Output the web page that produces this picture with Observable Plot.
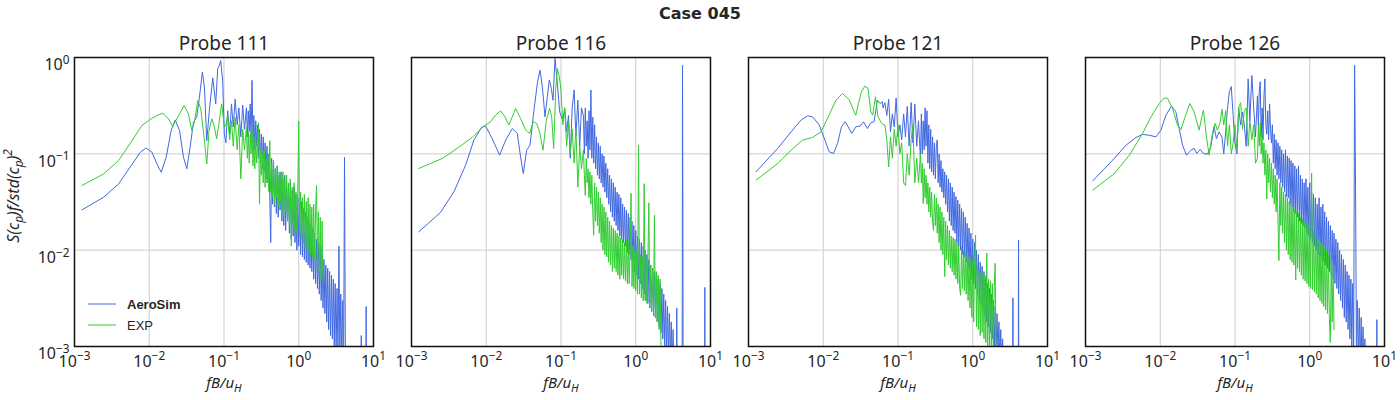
<!DOCTYPE html>
<html><head><meta charset="utf-8">
<script src="https://cdn.jsdelivr.net/npm/d3@7"></script>
<script src="https://cdn.jsdelivr.net/npm/@observablehq/plot@0.6"></script>
<style>
body{margin:0;background:#fff;position:relative;width:1400px;}
#title{position:absolute;top:4px;left:0;width:1400px;height:20px;line-height:20px;text-align:center;font:bold 16px "DejaVu Sans",sans-serif;color:#262626;}
#chart{padding-top:28px;}
#chart svg{display:block;}
</style></head><body>
<div id="title">Case 045</div>
<div id="chart"></div>
<script>
const probes = ["Probe 111", "Probe 116", "Probe 121", "Probe 126"];
const seriesNames = ["AeroSim", "EXP"];
const xTicks = [0.001, 0.01, 0.1, 1, 10];
const yTicks = [0.001, 0.01, 0.1, 1];

// frequency grids (fB/uH) for the oscillating high-frequency parts
const freqCoarse = [0.0631,0.0668,0.0708,0.075,0.0794,0.0841,0.0891,0.0944,0.1,0.106,0.112,0.119,0.126,0.133,0.141,0.15,0.158,0.168,0.178,0.188];
const freqFine = [0.1995,0.2054,0.2113,0.2175,0.2239,0.2304,0.2371,0.2441,0.2512,0.2585,0.2661,0.2738,0.2818,0.2901,0.2985,0.3073,0.3162,0.3255,0.335,0.3447,0.3548,0.3652,0.3758,0.3868,0.3981,0.4097,0.4217,0.434,0.4467,0.4597,0.4732,0.487,0.5012,0.5158,0.5309,0.5464,0.5623,0.5788,0.5957,0.6131,0.631,0.6494,0.6683,0.6879,0.7079,0.7286,0.7499,0.7718,0.7943,0.8175,0.8414,0.866,0.8913,0.9173,0.9441,0.9716,1,1.029,1.059,1.09,1.122,1.155,1.189,1.223,1.259,1.296,1.334,1.372,1.413,1.454,1.496,1.54,1.585,1.631,1.679,1.728,1.778,1.83,1.884,1.939,1.995,2.054,2.113,2.175,2.239,2.304,2.371,2.441,2.512,2.585,2.661,2.738,2.818,2.901,2.985,3.073,3.162,3.255,3.35,3.447,3.548,3.652,3.758,3.868,3.981,4.097,4.217,4.34,4.467,4.597,4.732,4.87,5.012,5.158,5.309,5.464,5.623];

// ---- Probe 111 ----
const aero111Low = [[0.00126,0.0262],[0.00246,0.0355],[0.0039,0.0489],[0.00587,0.0775],[0.00759,0.104],[0.00903,0.115],[0.01086,0.104],[0.01265,0.0787],[0.01445,0.0645],[0.01686,0.0923],[0.01965,0.175],[0.0222,0.225],[0.0254,0.175],[0.0287,0.0923],[0.0318,0.07],[0.0352,0.117],[0.039,0.213],[0.0432,0.24],[0.0469,0.387],[0.0514,0.705],[0.0547,0.492],[0.0588,0.137],[0.0637,0.282],[0.0707,0.615],[0.0775,0.33],[0.0824,0.762],[0.0867,0.826],[0.0903,0.931],[0.096,0.577],[0.101,0.161]];
const aero111Coarse = [null,null,null,null,null,null,null,null,null,0.13,0.28,0.16,0.33,0.19,0.37,0.2,0.3,0.15,0.32,0.18];
const aero111Fine = [0.3,0.15,0.28,0.17,0.33,0.14,0.58,0.13,0.25,0.11,0.22,0.12,0.2,0.09,0.18,0.08,0.16,0.07,0.15,0.065,0.13,0.055,0.12,0.05,0.1,0.035,0.012,0.09,0.03,0.085,0.028,0.07,0.024,0.075,0.022,0.06,0.026,0.065,0.02,0.055,0.018,0.06,0.016,0.05,0.02,0.045,0.015,0.05,0.013,0.042,0.014,0.045,0.012,0.038,0.01,0.035,0.011,0.03,0.009,0.032,0.0085,0.027,0.008,0.025,0.0075,0.022,0.007,0.02,0.0065,0.018,0.006,0.017,0.005,0.015,0.0045,0.013,0.004,0.012,0.0035,0.011,0.003,0.009,0.0025,0.008,0.0022,0.007,0.0018,0.0065,0.0015,0.006,0.0013,0.0055,0.0012,0.005,0.001,0.0045,0.0009,0.004,0.0008,0.011,0.0008,0.0035,0.0007,0.003,0.0006,0.092,0.0005];
const aero111Spikes = [[6.8,0.0005],[6.86,0.0013],[6.92,0.0005],[7.9,0.0005],[7.98,0.0026],[8.05,0.0005]];
const exp111Low = [[0.00126,0.0469],[0.00246,0.062],[0.0039,0.0853],[0.00587,0.137],[0.00798,0.197],[0.01009,0.225],[0.01265,0.25],[0.0152,0.264],[0.0181,0.231],[0.0205,0.192],[0.0234,0.231],[0.0293,0.318],[0.0334,0.26],[0.0371,0.175],[0.0402,0.213],[0.0446,0.358],[0.0489,0.293],[0.0541,0.149],[0.0588,0.0787],[0.0631,0.175],[0.0686,0.231],[0.0743,0.189],[0.0798,0.143],[0.0867,0.222],[0.0931,0.33],[0.101,0.189]];
const exp111Coarse = [null,null,null,null,null,null,null,null,null,0.2,0.25,0.14,0.22,0.12,0.24,0.11,0.2,0.055,0.18,0.11];
const exp111Fine = [0.19,0.09,0.17,0.08,0.16,0.1,0.18,0.075,0.15,0.07,0.14,0.08,0.12,0.21,0.03,0.11,0.06,0.1,0.05,0.11,0.045,0.09,0.05,0.1,0.04,0.137,0.04,0.08,0.035,0.085,0.03,0.07,0.035,0.075,0.028,0.065,0.03,0.06,0.025,0.065,0.022,0.055,0.025,0.06,0.02,0.05,0.018,0.055,0.011,0.045,0.018,0.05,0.016,0.04,0.015,0.045,0.22,0.014,0.04,0.013,0.035,0.012,0.038,0.011,0.032,0.01,0.035,0.0095,0.03,0.009,0.028,0.0085,0.03,0.008,0.025,0.047,0.0075,0.025,0.006,0.022,0.005,0.02,0.0045];
const exp111Spikes = [];

// ---- Probe 116 ----
const aero116Low = [[0.00125,0.0155],[0.00244,0.0246],[0.00369,0.0403],[0.00529,0.0762],[0.00684,0.139],[0.00865,0.188],[0.0098,0.194],[0.012,0.144],[0.0151,0.0968],[0.0182,0.139],[0.0223,0.183],[0.026,0.163],[0.0288,0.093],[0.0313,0.0625],[0.0347,0.109],[0.0385,0.123],[0.0435,0.284],[0.0482,0.537],[0.0524,0.739],[0.0563,0.496],[0.0611,0.242],[0.0656,0.391],[0.0698,0.582],[0.0743,0.477],[0.0782,0.36],[0.0832,0.977],[0.0894,0.537],[0.096,0.273]];
const aero116Coarse = [null,null,null,null,null,null,null,null,null,0.22,0.3,0.17,0.25,0.09,0.3,0.46,0.15,0.36,0.12,0.3];
const aero116Fine = [0.25,0.1,0.3,0.12,0.22,0.09,0.28,0.11,0.46,0.09,0.24,0.08,0.2,0.07,0.15,0.06,0.13,0.055,0.12,0.05,0.1,0.045,0.095,0.04,0.08,0.035,0.07,0.03,0.06,0.025,0.055,0.022,0.05,0.02,0.045,0.018,0.04,0.016,0.038,0.014,0.035,0.013,0.03,0.012,0.028,0.011,0.026,0.0095,0.024,0.009,0.022,0.008,0.02,0.0075,0.018,0.006,0.016,0.0055,0.014,0.005,0.013,0.0045,0.012,0.004,0.011,0.0035,0.01,0.003,0.009,0.0028,0.008,0.0025,0.007,0.0023,0.0065,0.0021,0.006,0.002,0.0055,0.0018,0.005,0.0016,0.0045,0.0014,0.004,0.0012,0.0035,0.001,0.003,0.0009,0.0026,0.0008,0.0022,0.0007,0.0018,0.0006,0.0015,0.0005];
const aero116Spikes = [[3.5,0.0006],[3.54,0.0025],[3.58,0.0006],[4.18,0.0006],[4.22,0.83],[4.26,0.05],[4.3,0.0006],[8.35,0.0006],[8.4,0.0041],[8.45,0.0006]];
const exp116Low = [[0.00125,0.0705],[0.00258,0.0895],[0.00409,0.114],[0.00649,0.148],[0.00883,0.188],[0.01143,0.215],[0.0133,0.252],[0.0156,0.279],[0.0178,0.242],[0.0201,0.199],[0.0223,0.242],[0.0247,0.296],[0.0288,0.233],[0.0337,0.176],[0.038,0.163],[0.0426,0.215],[0.0472,0.207],[0.0524,0.163],[0.0574,0.109],[0.0637,0.224],[0.0705,0.296],[0.075,0.242],[0.0798,0.114],[0.0849,0.458],[0.0894,0.769],[0.0951,0.631],[0.1,0.458]];
const exp116Coarse = [null,null,null,null,null,null,null,null,null,0.2,0.3,0.12,0.22,0.1,0.18,0.08,0.19,0.045,0.12,0.07];
const exp116Fine = [0.11,0.06,0.037,0.09,0.05,0.07,0.035,0.065,0.03,0.06,0.025,0.0143,0.05,0.02,0.045,0.018,0.04,0.015,0.035,0.012,0.03,0.01,0.028,0.009,0.025,0.0085,0.022,0.0075,0.02,0.007,0.018,0.006,0.017,0.0065,0.016,0.006,0.015,0.0055,0.014,0.005,0.0135,0.0055,0.013,0.005,0.012,0.0048,0.013,0.0045,0.012,0.0045,0.011,0.039,0.0042,0.011,0.004,0.01,0.0038,0.0095,0.0035,0.123,0.0035,0.009,0.0032,0.0085,0.003,0.049,0.003,0.008,0.0028,0.0075,0.031,0.0026,0.007,0.0024,0.0065,0.0022,0.023,0.002,0.006,0.0018,0.0055,0.0015,0.005,0.001];
const exp116Spikes = [];

// ---- Probe 121 ----
const aero121Low = [[0.00126,0.065],[0.00246,0.114],[0.00371,0.169],[0.00504,0.224],[0.00618,0.248],[0.00721,0.242],[0.00885,0.199],[0.01052,0.139],[0.012,0.105],[0.01374,0.101],[0.01552,0.128],[0.01754,0.191],[0.01965,0.215],[0.02153,0.191],[0.0241,0.163],[0.0273,0.191],[0.0311,0.194],[0.0345,0.215],[0.039,0.183],[0.0432,0.21],[0.0479,0.215],[0.053,0.36],[0.0575,0.333],[0.0618,0.347]];
const aero121Coarse = [0.3,0.34,0.25,0.37,0.17,0.26,0.19,0.38,0.15,0.2,0.14,0.26,0.15,0.31,0.12,0.34,0.13,0.33,0.12,0.22];
const aero121Fine = [0.09,0.26,0.1,0.22,0.11,0.3,0.12,0.28,0.08,0.2,0.07,0.18,0.065,0.15,0.06,0.13,0.055,0.12,0.14,0.05,0.1,0.045,0.085,0.04,0.07,0.035,0.065,0.03,0.06,0.025,0.055,0.02,0.05,0.018,0.045,0.016,0.04,0.015,0.036,0.012,0.033,0.011,0.03,0.01,0.027,0.009,0.025,0.0085,0.022,0.0075,0.019,0.0065,0.017,0.006,0.015,0.005,0.013,0.0045,0.012,0.004,0.01,0.0035,0.009,0.003,0.0075,0.0027,0.0068,0.0024,0.006,0.0021,0.0052,0.0018,0.0045,0.0016,0.004,0.0014,0.0035,0.0012,0.003,0.001,0.0026,0.0009,0.0022,0.0008,0.0018,0.0007,0.0015,0.0006,0.0012,0.0005];
const aero121Spikes = [[3.42,0.0006],[3.45,0.0032],[3.48,0.0006],[4.07,0.0006],[4.1,0.0127],[4.13,0.0006]];
const exp121Low = [[0.00126,0.0533],[0.00246,0.0794],[0.00371,0.109],[0.0053,0.139],[0.00721,0.148],[0.00931,0.169],[0.01167,0.242],[0.01476,0.36],[0.0181,0.423],[0.0222,0.366],[0.0254,0.284],[0.0273,0.252],[0.0296,0.333],[0.0324,0.44],[0.036,0.504],[0.0398,0.477],[0.0432,0.273],[0.0459,0.252],[0.0499,0.391],[0.0541,0.242],[0.0588,0.215],[0.0631,0.2]];
const exp121Coarse = [null,0.2,0.14,0.073,0.15,0.09,0.18,0.12,0.2,0.1,0.13,0.05,0.047,0.1,0.06,0.14,0.2,0.05,0.09,0.05];
const exp121Fine = [0.1,0.05,0.08,0.0305,0.07,0.035,0.06,0.03,0.05,0.025,0.045,0.022,0.04,0.02,0.016,0.038,0.018,0.035,0.015,0.03,0.012,0.028,0.01,0.025,0.009,0.022,0.0053,0.02,0.008,0.018,0.007,0.016,0.0065,0.014,0.006,0.0135,0.0055,0.013,0.005,0.012,0.0045,0.011,0.004,0.0034,0.011,0.004,0.01,0.0038,0.0095,0.0035,0.009,0.003,0.0085,0.0025,0.008,0.002,0.0075,0.0018,0.007,0.0143,0.0016,0.0068,0.0015,0.0065,0.0013,0.006,0.0014,0.0058,0.0012,0.0055,0.0011,0.0093,0.001,0.005,0.0009,0.0048,0.0009,0.0045,0.0008,0.0042,0.0073,0.0007];
const exp121Spikes = [];

// ---- Probe 126 ----
const aero126Low = [[0.00125,0.0525],[0.00231,0.0859],[0.00348,0.123],[0.00474,0.148],[0.00581,0.159],[0.00713,0.156],[0.00875,0.15],[0.01021,0.176],[0.0119,0.252],[0.01416,0.313],[0.01618,0.273],[0.0179,0.183],[0.01986,0.123],[0.02244,0.0968],[0.02564,0.109],[0.02838,0.114],[0.0308,0.101],[0.0341,0.111],[0.0378,0.101],[0.0428,0.0993],[0.0474,0.118],[0.0525,0.191],[0.0564,0.144],[0.0612,0.169]];
const aero126Coarse = [null,0.15,0.1,0.17,0.3,0.44,0.5,0.25,0.13,0.1,0.3,0.2,0.27,0.2,0.12,0.6,0.22,0.65,0.3,0.15];
const aero126Fine = [0.4,0.2,0.45,0.56,0.15,0.3,0.14,0.4,0.6,0.2,0.16,0.28,0.14,0.33,0.18,0.13,0.2,0.08,0.16,0.07,0.14,0.06,0.13,0.055,0.12,0.05,0.11,0.045,0.1,0.04,0.11,0.036,0.095,0.035,0.09,0.03,0.085,0.028,0.08,0.025,0.075,0.024,0.07,0.022,0.075,0.02,0.06,0.019,0.055,0.018,0.05,0.017,0.055,0.015,0.045,0.014,0.05,0.013,0.04,0.012,0.038,0.011,0.035,0.01,0.03,0.009,0.035,0.0086,0.028,0.008,0.03,0.0075,0.025,0.007,0.022,0.0065,0.02,0.006,0.018,0.0055,0.016,0.005,0.015,0.0045,0.013,0.004,0.012,0.0035,0.01,0.003,0.009,0.0025,0.008,0.002,0.007,0.0018,0.006,0.0015,0.0055,0.0012,0.005,0.001,0.0045,0.0009,0.83,0.047,0.0008,0.003,0.0007,0.0025,0.0006,0.002,0.0005,0.0016,0.0005,0.0012,0.0004];
const aero126Spikes = [[7.85,0.0006],[7.9,0.0019],[7.95,0.0006]];
const exp126Low = [[0.00125,0.042],[0.00244,0.0625],[0.00386,0.0968],[0.00581,0.163],[0.00751,0.242],[0.00971,0.333],[0.0113,0.381],[0.01253,0.375],[0.0146,0.296],[0.017,0.199],[0.0189,0.179],[0.0215,0.242],[0.0249,0.333],[0.0284,0.273],[0.0331,0.176],[0.036,0.242],[0.0378,0.284],[0.0415,0.15],[0.045,0.0968],[0.0499,0.163],[0.0541,0.207],[0.0581,0.176],[0.0631,0.21]];
const exp126Coarse = [null,0.29,0.2,0.28,0.12,0.2,0.1,0.13,0.2,0.11,0.3,0.34,0.18,0.28,0.3,0.12,0.22,0.14,0.2,0.08];
const exp126Fine = [0.09,0.2,0.12,0.21,0.1,0.16,0.08,0.13,0.06,0.11,0.034,0.1,0.05,0.09,0.04,0.08,0.035,0.07,0.03,0.06,0.025,0.055,0.02,0.0078,0.05,0.018,0.045,0.015,0.04,0.012,0.038,0.01,0.035,0.009,0.032,0.008,0.03,0.0075,0.028,0.007,0.026,0.0049,0.025,0.0065,0.024,0.006,0.022,0.0055,0.021,0.005,0.02,0.0048,0.019,0.0045,0.018,0.0042,0.017,0.004,0.063,0.0039,0.016,0.0037,0.015,0.0035,0.014,0.0032,0.013,0.003,0.012,0.0028,0.011,0.0026,0.0105,0.0024,0.01,0.0022,0.009,0.002,0.0011,0.008,0.0018,0.007,0.0015];
const exp126Spikes = [];

const colors = {AeroSim: "#4169e1", EXP: "#32cd32"};

const rows = [];
function addSeries(probe, series, low, coarse, fine, spikes) {
  low.forEach(([f, S]) => rows.push({probe, series, f, S}));
  coarse.forEach((S, i) => { if (S != null) rows.push({probe, series, f: freqCoarse[i], S}); });
  fine.forEach((S, i) => { if (S != null) rows.push({probe, series, f: freqFine[i], S}); });
  spikes.forEach(([f, S]) => rows.push({probe, series, f, S}));
}
addSeries(probes[0], "AeroSim", aero111Low, aero111Coarse, aero111Fine, aero111Spikes);
addSeries(probes[1], "AeroSim", aero116Low, aero116Coarse, aero116Fine, aero116Spikes);
addSeries(probes[2], "AeroSim", aero121Low, aero121Coarse, aero121Fine, aero121Spikes);
addSeries(probes[3], "AeroSim", aero126Low, aero126Coarse, aero126Fine, aero126Spikes);
addSeries(probes[0], "EXP", exp111Low, exp111Coarse, exp111Fine, exp111Spikes);
addSeries(probes[1], "EXP", exp116Low, exp116Coarse, exp116Fine, exp116Spikes);
addSeries(probes[2], "EXP", exp121Low, exp121Coarse, exp121Fine, exp121Spikes);
addSeries(probes[3], "EXP", exp126Low, exp126Coarse, exp126Fine, exp126Spikes);

const fmt = d => "10^" + String(Math.round(Math.log10(d))).replace("-", "\u2212");

const chart = Plot.plot({
  width: 1400, height: 372,
  marginLeft: 74, marginRight: 16, marginTop: 29, marginBottom: 54,
  style: {fontFamily: '"Noto Sans", sans-serif', fontSize: "16px", color: "#262626", background: "white", overflow: "visible"},
  fx: {domain: probes, paddingInner: 0.1128, paddingOuter: 0, round: false, axis: null, label: null},
  x: {type: "log", domain: [0.001, 10], ticks: xTicks, tickFormat: fmt, tickSize: 0, tickPadding: 9, label: null},
  y: {type: "log", domain: [0.001, 1], ticks: yTicks, tickFormat: fmt, tickSize: 0, tickPadding: 5, label: null},
  marks: [
    Plot.ruleX(xTicks, {stroke: "#cccccc", strokeWidth: 1}),
    Plot.ruleY(yTicks, {stroke: "#cccccc", strokeWidth: 1}),
    Plot.line(rows.filter(d => d.series === "AeroSim"), {x: "f", y: "S", fx: "probe", stroke: colors.AeroSim, strokeWidth: 1, clip: true}),
    Plot.line(rows.filter(d => d.series === "EXP"), {x: "f", y: "S", fx: "probe", stroke: colors.EXP, strokeWidth: 1, clip: true}),
    Plot.frame({stroke: "#111", strokeWidth: 1.5}),
    Plot.text(probes, {fx: d => d, text: d => d, frameAnchor: "top", lineAnchor: "middle", dy: -14, fontSize: 19, fill: "#262626"}),
    Plot.text(probes, {fx: d => d, text: () => "XLABEL", frameAnchor: "bottom", lineAnchor: "middle", dy: 37, fontSize: 15, fill: "#262626"}),
    Plot.text([probes[0]], {fx: d => d, text: () => "YLABEL", frameAnchor: "left", textAnchor: "middle", lineAnchor: "middle", dx: -61, dy: -6, rotate: -90, fontSize: 16, fill: "#262626"})
  ]
});
document.getElementById("chart").appendChild(chart);

const svg = d3.select(chart.tagName.toLowerCase() === "svg" ? chart : chart.querySelector("svg"));

function rich(el, parts, base) {
  const s = d3.select(el);
  s.text(null);
  let cur = 0;
  parts.forEach(([txt, kind]) => {
    const target = kind === "sub" ? base * 0.27 : kind === "sup" ? -base * 0.4 : 0;
    const ts = s.append("tspan").text(txt);
    if (target !== cur) ts.attr("dy", target - cur);
    if (kind) ts.attr("font-size", "0.74em");
    cur = target;
  });
}

svg.selectAll("text").each(function() {
  const t = this.textContent;
  const m = t.match(/^10\^(.+)$/);
  if (m) {
    rich(this, [["10", null], [m[1], "sup"]], 16);
    if (this.closest('[aria-label^="y-axis"]')) d3.select(this).attr("dy", "0.48em");
  } else if (t === "XLABEL") {
    d3.select(this).attr("font-style", "italic");
    rich(this, [["fB/u", null], ["H", "sub"]], 15);
  } else if (t === "YLABEL") {
    d3.select(this).attr("font-style", "italic");
    rich(this, [["S(c", null], ["p", "sub"], [")f/std(c", null], ["p", "sub"], [")", null], ["2", "sup"]], 16);
  }
});

// legend inside the first panel
const lg = svg.append("g").attr("font-family", '"Liberation Sans", Arial, sans-serif').attr("font-size", 13).attr("fill", "#262626").attr("text-anchor", "start");
seriesNames.forEach((name, i) => {
  const y = 276 + i * 21;
  lg.append("line").attr("x1", 88).attr("x2", 116).attr("y1", y).attr("y2", y).attr("stroke", colors[name]).attr("stroke-width", 1);
  lg.append("text").attr("x", 127).attr("y", y).attr("dy", "0.35em").attr("font-weight", i === 0 ? "bold" : "normal").text(name);
});
</script>
</body></html>
